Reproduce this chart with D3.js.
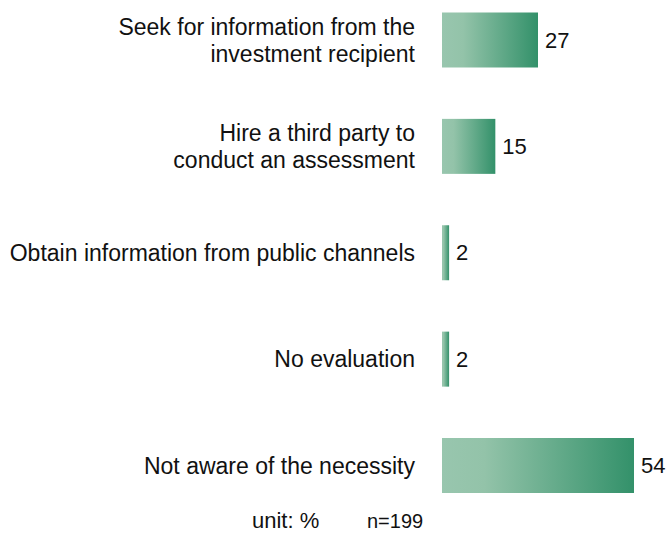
<!DOCTYPE html>
<html>
<head>
<meta charset="utf-8">
<script src="https://cdn.jsdelivr.net/npm/d3@7"></script>
<style>
  body { margin: 0; background: #fff; }
  text { font-family: "Liberation Sans", Arial, sans-serif; fill: #111; }
</style>
</head>
<body>
<div id="chart"></div>
<script>
// Data
const categories = [
  ["Seek for information from the", "investment recipient"],
  ["Hire a third party to", "conduct an assessment"],
  ["Obtain information from public channels"],
  ["No evaluation"],
  ["Not aware of the necessity"]
];
const values = [27, 15, 2, 2, 54];
const unitNote = "unit: %";
const sampleNote = "n=199";

const width = 667, height = 534;

const svg = d3.select("#chart")
  .append("svg")
    .attr("width", width)
    .attr("height", height);

// gradient fill for the bars
const grad = svg.append("defs").append("linearGradient")
  .attr("id", "barGrad")
  .attr("x1", "0%").attr("x2", "100%")
  .attr("y1", "0%").attr("y2", "0%");
grad.append("stop").attr("offset", "0%").attr("stop-color", "#98c6ae");
grad.append("stop").attr("offset", "22%").attr("stop-color", "#93c3a9");
grad.append("stop").attr("offset", "100%").attr("stop-color", "#33916a");

const idx = d3.range(values.length);

const x = d3.scaleLinear()
  .domain([0, 54])
  .range([442, 634]);

const y = d3.scaleBand()
  .domain(idx)
  .range([12.5, 493])
  .paddingInner(0.483)
  .paddingOuter(0);

// bars
svg.selectAll(".bar")
  .data(idx)
  .join("rect")
    .attr("class", "bar")
    .attr("x", x(0))
    .attr("y", i => y(i))
    .attr("width", i => x(values[i]) - x(0))
    .attr("height", y.bandwidth())
    .attr("fill", "url(#barGrad)");

// value labels
svg.selectAll(".val")
  .data(idx)
  .join("text")
    .attr("class", "val")
    .attr("x", i => x(values[i]) + 7)
    .attr("y", i => y(i) + y.bandwidth() / 2)
    .attr("dy", "0.35em")
    .style("font-size", "22px")
    .text(i => values[i]);

// category labels
const lineH = 27;
const labels = svg.selectAll(".cat")
  .data(idx)
  .join("text")
    .attr("class", "cat")
    .attr("text-anchor", "end")
    .style("font-size", "23px");

labels.selectAll("tspan")
  .data(i => categories[i].map((t, k) => ({t, k, n: categories[i].length, i})))
  .join("tspan")
    .attr("x", 415)
    .attr("y", d => y(d.i) + y.bandwidth() / 2 + (d.k - (d.n - 1) / 2) * lineH)
    .attr("dy", "0.35em")
    .text(d => d.t);

// footnotes
svg.append("text")
  .attr("x", 252)
  .attr("y", 528)
  .style("font-size", "22px")
  .text(unitNote);

svg.append("text")
  .attr("x", 367)
  .attr("y", 528)
  .style("font-size", "20px")
  .text(sampleNote);
</script>
</body>
</html>
